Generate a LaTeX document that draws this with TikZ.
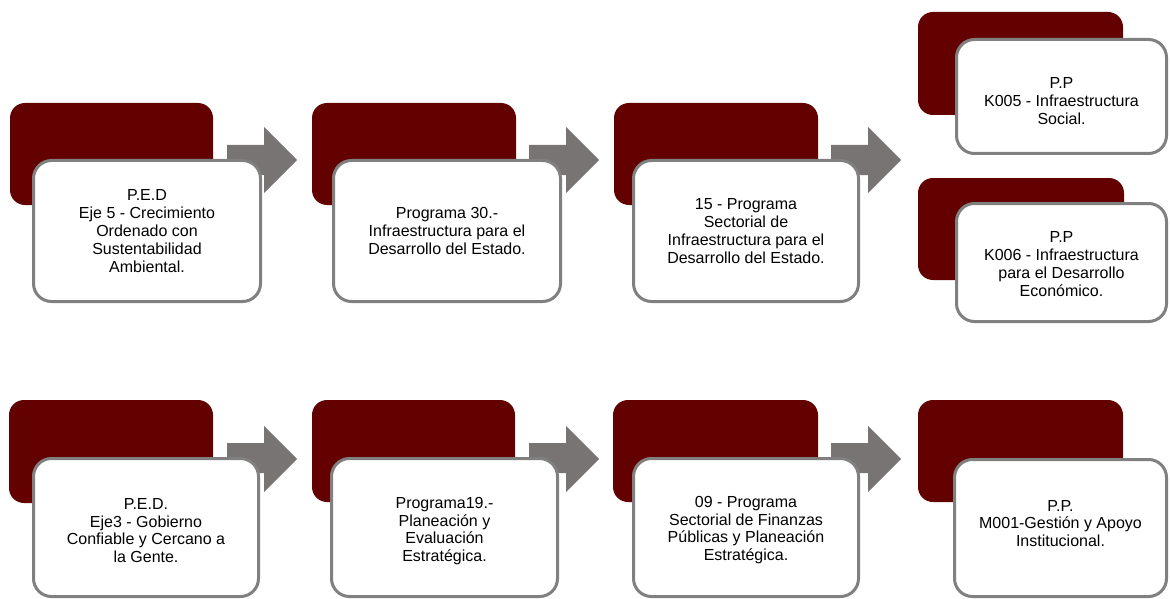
\documentclass[tikz,border=0pt]{standalone}
\usepackage{fontspec}
\setmainfont{Liberation Sans}
\definecolor{boxred}{RGB}{99,0,0}
\definecolor{arrowgrey}{RGB}{120,116,116}
\definecolor{bordergrey}{RGB}{128,128,128}
\tikzset{
  backbox/.style={rectangle, rounded corners=15pt, fill=boxred, draw=none, inner sep=0pt},
  frontbox/.style={rectangle, rounded corners=18pt, fill=white, draw=bordergrey, line width=3pt,
    align=center, inner sep=0pt, font=\fontsize{16}{17.8}\selectfont, text=black},
  boxtext/.style={align=center, inner sep=0pt, font=\fontsize{16}{17.8}\selectfont, text=black},
  blockarrow/.style={fill=arrowgrey, draw=none},
}
\begin{document}
\begin{tikzpicture}[x=1pt,y=-1pt]
\useasboundingbox (0,0) rectangle (1170,599);

% ---------- Row 1 ----------
% group 1
\node[backbox, minimum width=203pt, minimum height=102pt] (d1) at (111.5,154) {};
\fill[blockarrow] (227,145) -- (264,145) -- (264,127) -- (297,160) -- (264,193) -- (264,175) -- (227,175) -- cycle;
\node[frontbox, minimum width=227pt, minimum height=141pt] (w1) at (147,231)
  {P.E.D\\Eje 5 - Crecimiento\\Ordenado con\\Sustentabilidad\\Ambiental.};

% group 2
\node[backbox, minimum width=204pt, minimum height=102pt] (d2) at (414,154) {};
\fill[blockarrow] (529,145) -- (566,145) -- (566,127) -- (599,160) -- (566,193) -- (566,175) -- (529,175) -- cycle;
\node[frontbox, minimum width=227pt, minimum height=141pt] (w2) at (447,231)
  {Programa 30.-\\Infraestructura para el\\Desarrollo del Estado.};

% group 3
\node[backbox, minimum width=204pt, minimum height=102pt] (d3) at (716,154) {};
\fill[blockarrow] (831,145) -- (868,145) -- (868,127) -- (901,160) -- (868,193) -- (868,175) -- (831,175) -- cycle;
\node[frontbox, minimum width=225pt, minimum height=141pt] (w3) at (746,231)
  {15 - Programa\\Sectorial de\\Infraestructura para el\\Desarrollo del Estado.};

% group 4a
\node[backbox, minimum width=205pt, minimum height=103pt] (d4a) at (1020.5,63.5) {};
\node[frontbox, minimum width=210pt, minimum height=114pt] (w4a) at (1061.5,96.5) {};
\node[boxtext] (t4a) at (1061.5,101) {P.P\\K005 - Infraestructura\\Social.};

% group 4b
\node[backbox, minimum width=206pt, minimum height=102pt] (d4b) at (1021,229) {};
\node[frontbox, minimum width=210pt, minimum height=118pt] (w4b) at (1061.5,262.5) {};
\node[boxtext] (t4b) at (1061.5,264) {P.P\\K006 - Infraestructura\\para el Desarrollo\\Económico.};

% ---------- Row 2 ----------
% group 5
\node[backbox, minimum width=204pt, minimum height=103pt] (d5) at (111,451.5) {};
\fill[blockarrow] (227,443) -- (264,443) -- (264,426) -- (297,459) -- (264,492) -- (264,473) -- (227,473) -- cycle;
\node[frontbox, minimum width=225pt, minimum height=138pt] (w5) at (146,527.5) {};
\node[boxtext] (t5) at (146,530.5) {P.E.D.\\Eje3 - Gobierno\\Confiable y Cercano a\\la Gente.};

% group 6
\node[backbox, minimum width=203pt, minimum height=102pt] (d6) at (413.5,451) {};
\fill[blockarrow] (529,443) -- (566,443) -- (566,426) -- (599,459) -- (566,492) -- (566,473) -- (529,473) -- cycle;
\node[frontbox, minimum width=226pt, minimum height=138pt] (w6) at (444.5,527.5) {};
\node[boxtext] (t6) at (444.5,531) {Programa19.-\\Planeación y\\Evaluación\\Estratégica.};

% group 7
\node[backbox, minimum width=205pt, minimum height=102pt] (d7) at (715.5,451) {};
\fill[blockarrow] (831,443) -- (868,443) -- (868,426) -- (901,459) -- (868,492) -- (868,473) -- (831,473) -- cycle;
\node[frontbox, minimum width=225pt, minimum height=138pt] (w7) at (746,527.5) {};
\node[boxtext] (t7) at (746,530) {09 - Programa\\Sectorial de Finanzas\\Públicas y Planeación\\Estratégica.};

% group 8
\node[backbox, minimum width=205pt, minimum height=102pt] (d8) at (1020.5,451) {};
\node[frontbox, minimum width=212pt, minimum height=137pt] (w8) at (1060.5,528) {};
\node[boxtext] (t8) at (1060.5,523.5) {P.P.\\M001-Gestión y Apoyo\\Institucional.};
\end{tikzpicture}
\end{document}
